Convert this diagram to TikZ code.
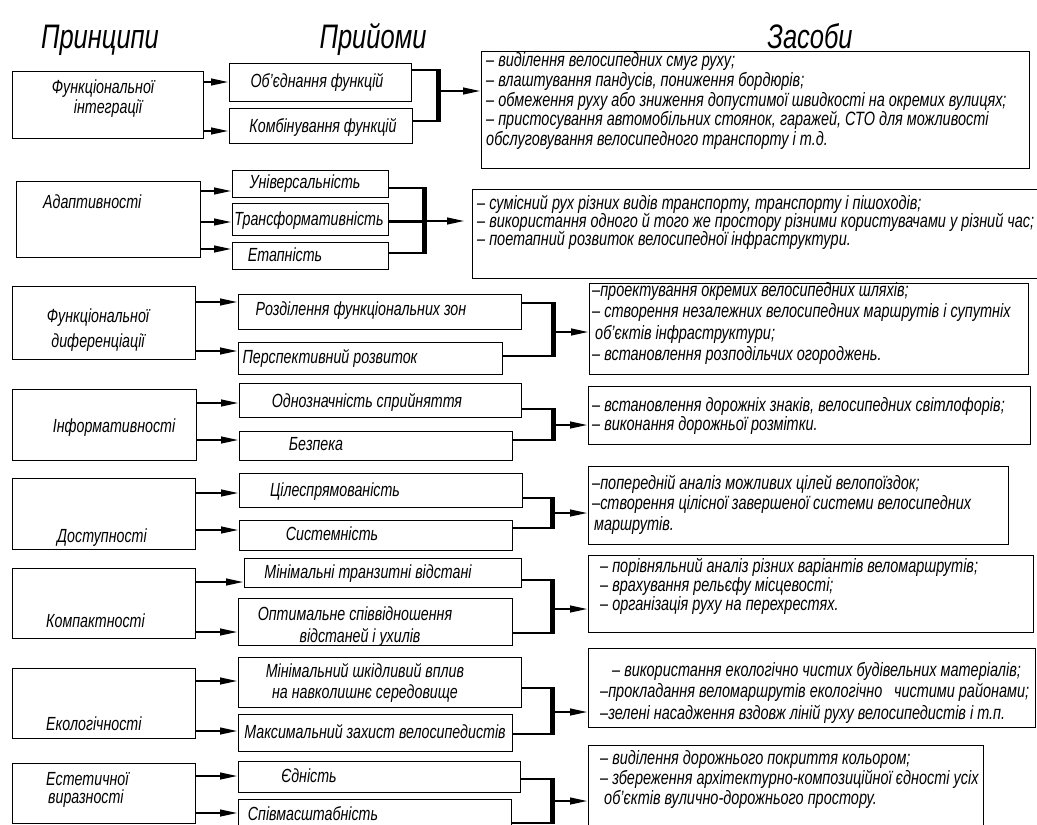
\documentclass[tikz,border=0pt]{standalone}
\usepackage{fontspec}
\setmainfont{Liberation Sans}[FakeStretch=0.75]
\usetikzlibrary{arrows.meta}
\newcommand\myP{\fontsize{19pt}{20pt}\selectfont\itshape}
\newcommand\myZ{\fontsize{19.3pt}{20pt}\selectfont\itshape}
\newcommand\myT{\fontsize{34pt}{36pt}\selectfont\itshape}
\newcommand\zt[2]{\vtop{\baselineskip=#1pt\lineskiplimit=-100pt\relax#2}}
\newcommand\zl[1]{\hbox{#1}}
\tikzset{
  box/.style={draw, line width=0.8pt, inner sep=0pt, anchor=north west},
  ptx/.style={font=\myP, inner sep=0pt, anchor=base},
  ptxw/.style={font=\myP, inner sep=0pt, anchor=base west},
  ztx/.style={font=\myZ, inner sep=0pt, anchor=base west},
  ttl/.style={font=\myT, inner sep=0pt, anchor=base},
  feedarr/.style={line width=2.6pt, -{Triangle[length=18pt,width=6.5pt]}},
  hl/.style={line width=1.8pt},
  bar/.style={line width=5pt, shorten <=-0.9pt, shorten >=-0.9pt},
  midl/.style={line width=3pt},
}
\newcommand\bx[5]{\node[box, minimum width={(#4-#2)*1pt}, minimum height={(#5-#3)*1pt}] (#1) at (#2,#3) {};}
\newcommand\feed[3]{\coordinate (f#1#2) at (0,#3); \draw[feedarr] (#1.east |- f#1#2) -- (#2.west |- f#1#2);}
\newcommand\brk[8]{%
  \coordinate (k#1t) at (#5,#6); \coordinate (k#1b) at (#5,#7); \coordinate (k#1m) at (#5,#8);
  \draw[hl] (#2.east |- k#1t) -- (k#1t);
  \draw[hl] (#3.east |- k#1b) -- (k#1b);
  \draw[bar] (k#1t) -- (k#1b);
  \draw[feedarr] (k#1m) -- (#4.west |- k#1m);}
\begin{document}
\begin{tikzpicture}[x=1pt,y=-1pt]
\path[use as bounding box, fill=white] (0,0) rectangle (1037,825);

% titles
\node[ttl] (T1) at (100,48) {Принципи};
\node[ttl] (T2) at (373,48) {Прийоми};
\node[ttl] (T3) at (810,48) {Засоби};

% principle boxes
\bx{P1}{12}{71}{203}{138}
\bx{P2}{16}{181}{200}{257}
\bx{P3}{12}{286}{195}{359}
\bx{P4}{12}{389}{196}{460}
\bx{P5}{12}{478}{195}{549}
\bx{P6}{12}{568}{195}{638}
\bx{P7}{12}{668}{195}{738}
\bx{P8}{12}{763}{195}{823}

\node[ptx] (P1t1) at (103,93) {Функціональної};
\node[ptx] (P1t2) at (108,113) {інтеграції};
\node[ptxw] (P2t) at (43,208) {Адаптивності};
\node[ptx] (P3t1) at (98,322) {Функціональної};
\node[ptx] (P3t2) at (98,347) {диференціації};
\node[ptx] (P4t) at (114,432) {Інформативності};
\node[ptxw] (P5t) at (57,542) {Доступності};
\node[ptxw] (P6t) at (46,627) {Компактності};
\node[ptxw] (P7t) at (46,730) {Екологічності};
\node[ptxw] (P8t1) at (46,785) {Естетичної};
\node[ptxw] (P8t2) at (48,803) {виразності};

% method boxes
\bx{A1a}{229}{63}{411}{101}
\bx{A1b}{229}{108}{412}{143}
\bx{A2a}{232}{170}{388}{197}
\bx{A2b}{232}{203}{388}{235}
\bx{A2c}{232}{242}{388}{269}
\bx{A3a}{238}{294}{521}{329}
\bx{A3b}{238}{342}{502}{374}
\bx{A4a}{239}{383}{521}{417}
\bx{A4b}{239}{431}{512}{460}
\bx{A5a}{239}{473}{522}{507}
\bx{A5b}{239}{520}{512}{550}
\bx{A6a}{244}{558}{521}{587}
\bx{A6b}{238}{598}{512}{645}
\bx{A7a}{238}{657}{521}{707}
\bx{A7b}{238}{714}{512}{751}
\bx{A8a}{238}{761}{520}{792}
\bx{A8b}{238}{799}{511}{845}

\node[ptx] (A1at) at (317,87) {Об’єднання функцій};
\node[ptx] (A1bt) at (323,132) {Комбінування функцій};
\node[ptx] (A2at) at (305,188) {Універсальність};
\node[ptx] (A2bt) at (309,225) {Трансформативність};
\node[ptx] (A2ct) at (285,261) {Етапність};
\node[ptx] (A3at) at (361,315) {Розділення функціональних зон};
\node[ptx] (A3bt) at (330,363) {Перспективний розвиток};
\node[ptx] (A4at) at (367,407) {Однозначність сприйняття};
\node[ptx] (A4bt) at (316,450) {Безпека};
\node[ptx] (A5at) at (335,496) {Цілеспрямованість};
\node[ptx] (A5bt) at (332,540) {Системність};
\node[ptx] (A6at) at (368,578) {Мінімальні транзитні відстані};
\node[ptx] (A6bt1) at (355,620) {Оптимальне співвідношення};
\node[ptx] (A6bt2) at (360,642) {відстаней і ухилів};
\node[ptx] (A7at1) at (365,677) {Мінімальний шкідливий вплив};
\node[ptx] (A7at2) at (365,698) {на навколишнє середовище};
\node[ptx] (A7bt) at (375,738) {Максимальний захист велосипедистів};
\node[ptx] (A8at) at (309,782) {Єдність};
\node[ptx] (A8bt) at (313,820) {Співмасштабність};

% means boxes
\bx{Z1}{481}{51}{1029}{168}
\bx{Z2}{472}{189}{1050}{278}
\bx{Z3}{589}{283}{1028}{374}
\bx{Z4}{588}{386}{1030}{444}
\bx{Z5}{588}{466}{1008}{544}
\bx{Z6}{588}{555}{1033}{632}
\bx{Z7}{588}{648}{1035}{727}
\bx{Z8}{588}{745}{983}{845}

\node[ztx] (Z1t) at (486,66.5) {\zt{19.8}{%
  \zl{– виділення велосипедних смуг руху;}%
  \zl{– влаштування пандусів, пониження бордюрів;}%
  \zl{– обмеження руху або зниження допустимої швидкості на окремих вулицях;}%
  \zl{– пристосування автомобільних стоянок, гаражей, СТО для можливості}%
  \zl{обслуговування велосипедного транспорту і т.д.}}};
\node[ztx] (Z2t) at (477,209) {\zt{18}{%
  \zl{– сумісний рух різних видів транспорту, транспорту і пішоходів;}%
  \zl{– використання одного й того же простору різними користувачами у різний час;}%
  \zl{– поетапний розвиток велосипедної інфраструктури.}}};
\node[ztx] (Z3t) at (592,296) {\zt{21.5}{%
  \zl{–проектування окремих велосипедних шляхів;}%
  \zl{– створення незалежних велосипедних маршрутів і супутніх}%
  \zl{\hspace{3pt}об’єктів інфраструктури;}%
  \zl{– встановлення розподільчих огороджень.}}};
\node[ztx] (Z4t) at (592,411.5) {\zt{18.5}{%
  \zl{– встановлення дорожніх знаків, велосипедних світлофорів;}%
  \zl{– виконання дорожньої розмітки.}}};
\node[ztx] (Z5t) at (592,489) {\zt{20.5}{%
  \zl{–попередній аналіз можливих цілей велопоїздок;}%
  \zl{–створення цілісної завершеної системи велосипедних}%
  \zl{\hspace{2pt}маршрутів.}}};
\node[ztx] (Z6t) at (600,572) {\zt{19}{%
  \zl{– порівняльний аналіз різних варіантів веломаршрутів;}%
  \zl{– врахування рельєфу місцевості;}%
  \zl{– організація руху на перехрестях.}}};
\node[ztx] (Z7t) at (600,676) {\zt{21.5}{%
  \zl{\hspace{12pt}– використання екологічно чистих будівельних матеріалів;}%
  \zl{–прокладання веломаршрутів екологічно\hspace{0.6em}чистими районами;}%
  \zl{–зелені насадження вздовж ліній руху велосипедистів і т.п.}}};
\node[ztx] (Z8t) at (600,764.5) {\zt{20}{%
  \zl{– виділення дорожнього покриття кольором;}%
  \zl{– збереження архітектурно-композиційної єдності усіх}%
  \zl{\hspace{4pt}об’єктів вулично-дорожнього простору.}}};

% principle -> method arrows
\feed{P1}{A1a}{82}  \feed{P1}{A1b}{131}
\feed{P2}{A2a}{191} \feed{P2}{A2b}{222} \feed{P2}{A2c}{249}
\feed{P3}{A3a}{302} \feed{P3}{A3b}{351}
\feed{P4}{A4a}{403} \feed{P4}{A4b}{440}
\feed{P5}{A5a}{493} \feed{P5}{A5b}{530}
\feed{P6}{A6a}{582} \feed{P6}{A6b}{632}
\feed{P7}{A7a}{681} \feed{P7}{A7b}{731}
\feed{P8}{A8a}{776} \feed{P8}{A8b}{813}

% brackets -> means
\brk{1}{A1a}{A1b}{Z1}{438}{70}{121}{91}
\coordinate (k2t) at (424,188); \coordinate (k2b) at (424,253); \coordinate (k2m) at (424,221);
\draw[hl] (A2a.east |- k2t) -- (k2t);
\draw[hl] (A2c.east |- k2b) -- (k2b);
\draw[midl] (A2b.east |- k2m) -- (k2m);
\draw[bar] (k2t) -- (k2b);
\draw[feedarr, shorten >=7pt] (k2m) -- (Z2.west |- k2m);
\brk{3}{A3a}{A3b}{Z3}{553}{303}{356}{332}
\brk{4}{A4a}{A4b}{Z4}{553}{409}{440}{425}
\brk{5}{A5a}{A5b}{Z5}{552}{498}{528}{513}
\brk{6}{A6a}{A6b}{Z6}{552}{580}{633}{609}
\brk{7}{A7a}{A7b}{Z7}{552}{688}{734}{712}
\brk{8}{A8a}{A8b}{Z8}{552}{779}{823}{801}
\end{tikzpicture}
\end{document}
